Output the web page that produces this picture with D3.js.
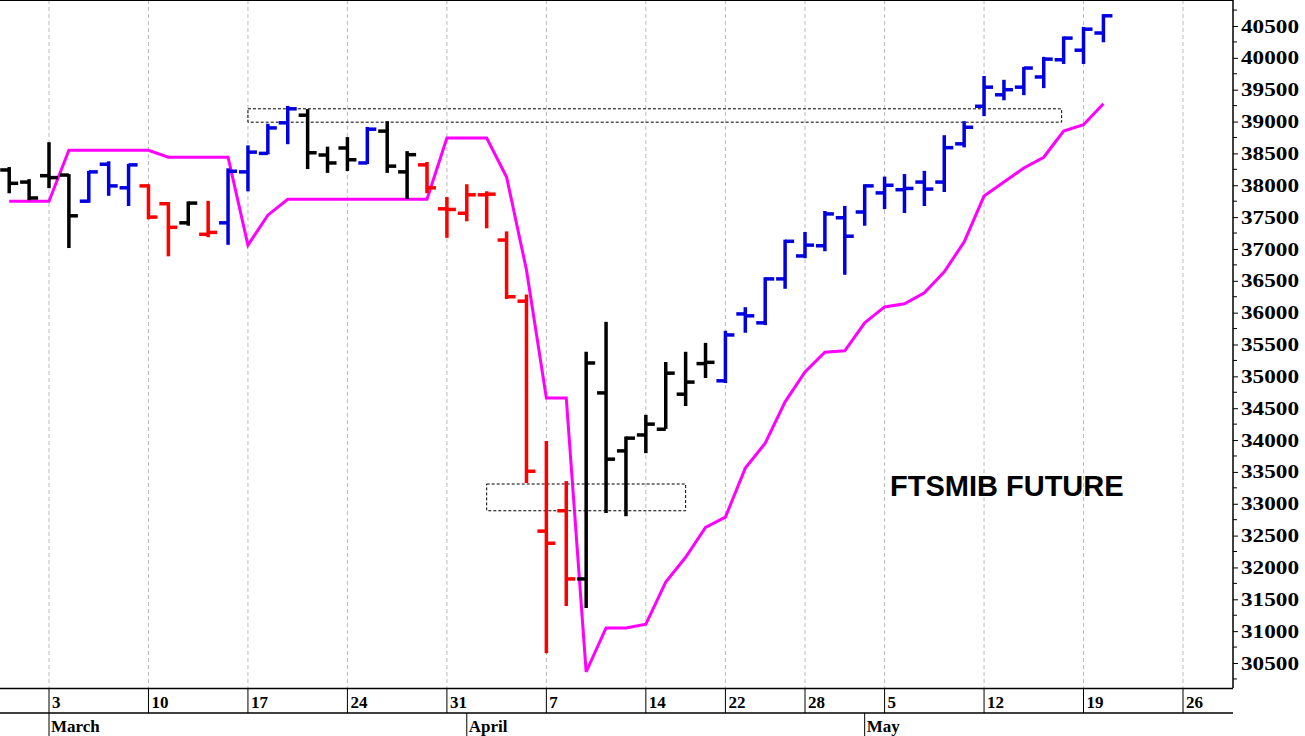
<!DOCTYPE html>
<html>
<head>
<meta charset="utf-8">
<script src="https://cdn.jsdelivr.net/npm/d3@7"></script>
<style>
  body { margin: 0; background: #fff; }
  svg { display: block; }
</style>
</head>
<body>
<script>
// bar index 0 = March 3; one step per trading day
const barIdx = d3.range(-2, 54);
// colours per bar (index -2..53)
const barColor = ["k","k","k","k","b","b","b","r","r","k","r","b","b","b","b","k","k","k","b","k","k","r",
  "r","r","r","r","r","r","r","k","k","k","k","k","k","k",
  "b","b","b","b","b","b","b","b","b","b","b","b","b","b","b","b","b","b","b","b"];
const opens  = [38240,38050,38150,38160,37750,38330,37960,37990,37710,37410,37230,37410,38210,38500,38980,39100,38475,38585,38350,38850,38210,38320,
  37630,37560,37850,37140,36180,32570,32890,31820,34740,33830,34080,34170,34720,35200,
  34930,35980,35840,36530,36890,37050,37490,37580,37880,37930,38050,38050,38650,39240,39420,39540,39700,39970,40120,40390];
const highs  = [38270,38080,38660,38160,38210,38360,38320,38000,37720,37730,37740,38250,38610,38950,39230,39180,38590,38740,38900,38990,38520,38350,
  37800,38000,37890,37260,36270,33970,33340,35370,35840,34040,34380,35210,35370,35510,
  35700,36070,36540,37130,37250,37580,37660,38000,38120,38160,38210,38770,38990,39700,39640,39840,40000,40320,40470,40670];
const lows   = [37890,37780,37970,37030,37740,37850,37690,37480,36900,37380,37200,37080,37920,38500,38660,38270,38210,38240,38350,38210,37800,37890,
  37190,37450,37340,36230,33340,30670,31410,31380,32870,32820,33810,34190,34550,34990,
  34910,35700,35820,36390,36870,36980,36610,37380,37640,37580,37690,37910,38610,39100,39350,39430,39540,39920,39920,40260];
const closes = [38030,37800,38120,37520,38210,37990,38320,37500,37340,37720,37260,38220,38520,38900,39200,38510,38350,38400,38880,38300,38480,37960,
  37620,37850,37860,36250,33510,32380,31820,35210,33700,34030,34250,35050,34910,35220,
  35650,35950,36530,37120,37060,37550,37200,37990,38000,37950,37940,38590,38910,39540,39500,39840,39980,40310,40450,40660];
const pink   = [37750,37750,37750,38550,38550,38550,38550,38550,38440,38440,38440,38440,37060,37530,37780,37780,37780,37780,37780,37780,37780,37780,
  38740,38740,38740,38130,36670,34660,34660,30360,31050,31050,31110,31770,32160,32630,
  32790,33560,33950,34600,35070,35380,35400,35840,36090,36140,36310,36640,37110,37830,38050,38270,38440,38850,38950,39280];
// resistance / support zones: [start idx, end idx, low, high]
const zones = [[10, 50.9, 38990, 39200], [22, 32, 32890, 33310]];
const weekLabels = ["3","10","17","24","31","7","14","22","28","5","12","19","26"];
const weekIdx = [0,5,10,15,20,25,30,34,38,42,47,52,57];
const monthLabels = ["March","April","May"];
const monthIdx = [0,21,41];
const yTicks = d3.range(30500, 40501, 500);

const W = 1305, H = 736, plotR = 1233, plotB = 688;
const colorMap = { k: "#000000", r: "#ff0000", b: "#0000e0" };

const x = d3.scaleLinear().domain([0, 57]).range([49, 1183]);
const y = d3.scaleLinear().domain([30500, 40500]).range([663, 26]);

const svg = d3.select("body").append("svg").attr("width", W).attr("height", H);

// week gridlines
svg.selectAll("line.grid").data(weekIdx).enter().append("line")
  .attr("x1", d => x(d)).attr("x2", d => x(d)).attr("y1", 0).attr("y2", plotB)
  .attr("stroke", "#bbb").attr("stroke-dasharray", "4,3");

// zones
zones.forEach(z => {
  svg.append("rect").attr("x", x(z[0])).attr("width", x(z[1]) - x(z[0]))
    .attr("y", y(z[3])).attr("height", y(z[2]) - y(z[3]))
    .attr("fill", "none").attr("stroke", "#000").attr("stroke-dasharray", "3,2");
});

// pink line
svg.append("path").datum(barIdx)
  .attr("d", d3.line().x(d => x(d)).y((d, i) => y(pink[i])))
  .attr("fill", "none").attr("stroke", "#ff00ff").attr("stroke-width", 3);

// OHLC bars
const bars = svg.append("g").selectAll("g").data(barIdx).enter().append("g")
  .attr("stroke", (d, i) => colorMap[barColor[i]]).attr("stroke-width", 3.5);
bars.append("line").attr("x1", d => x(d)).attr("x2", d => x(d))
  .attr("y1", (d, i) => y(highs[i]) - 1).attr("y2", (d, i) => y(lows[i]) + 1);
bars.append("line").attr("x1", d => x(d) - 9).attr("x2", d => x(d))
  .attr("y1", (d, i) => y(opens[i])).attr("y2", (d, i) => y(opens[i]));
bars.append("line").attr("x1", d => x(d)).attr("x2", d => x(d) + 9)
  .attr("y1", (d, i) => y(closes[i])).attr("y2", (d, i) => y(closes[i]));

// frame
svg.append("line").attr("x1", 0).attr("x2", plotR).attr("y1", 0.5).attr("y2", 0.5).attr("stroke", "#000");
svg.append("line").attr("x1", plotR).attr("x2", plotR).attr("y1", 0).attr("y2", plotB).attr("stroke", "#000").attr("stroke-width", 1.5);

// y axis
const yAxis = d3.axisRight(y).tickValues(yTicks).tickSize(5).tickPadding(3).tickFormat(d3.format("d"));
const gy = svg.append("g").attr("transform", `translate(${plotR},0)`).call(yAxis);
gy.select(".domain").remove();
gy.selectAll("text").attr("font-family", "Liberation Serif").attr("font-weight", "bold")
  .attr("font-size", 19).attr("fill", "#000").attr("textLength", 58).attr("lengthAdjust", "spacingAndGlyphs");
svg.append("g").selectAll("line").data(d3.range(30250, 40751, 500)).enter().append("line")
  .attr("x1", plotR).attr("x2", plotR + 4).attr("y1", d => y(d)).attr("y2", d => y(d)).attr("stroke", "#000");

// x axis
[plotB + 0.5, 713].forEach(yy => svg.append("line").attr("x1", 0).attr("x2", plotR)
  .attr("y1", yy).attr("y2", yy).attr("stroke", "#000").attr("stroke-width", 1.5));
const wk = svg.append("g").selectAll("g").data(weekIdx).enter().append("g");
wk.append("line").attr("x1", d => x(d)).attr("x2", d => x(d)).attr("y1", plotB).attr("y2", 713).attr("stroke", "#000");
wk.append("text").attr("x", d => x(d) + 3).attr("y", 708).text((d, i) => weekLabels[i])
  .attr("font-family", "Liberation Serif").attr("font-weight", "bold").attr("font-size", 17);
const mo = svg.append("g").selectAll("g").data(monthIdx).enter().append("g");
mo.append("line").attr("x1", d => x(d)).attr("x2", d => x(d)).attr("y1", 713).attr("y2", H).attr("stroke", "#000");
mo.append("text").attr("x", d => x(d) + 2).attr("y", 732).text((d, i) => monthLabels[i])
  .attr("font-family", "Liberation Serif").attr("font-weight", "bold").attr("font-size", 17);

// title
svg.append("text").attr("x", 890).attr("y", 496).text("FTSMIB FUTURE")
  .attr("font-family", "Liberation Sans").attr("font-weight", "bold").attr("font-size", 29);
</script>
</body>
</html>
